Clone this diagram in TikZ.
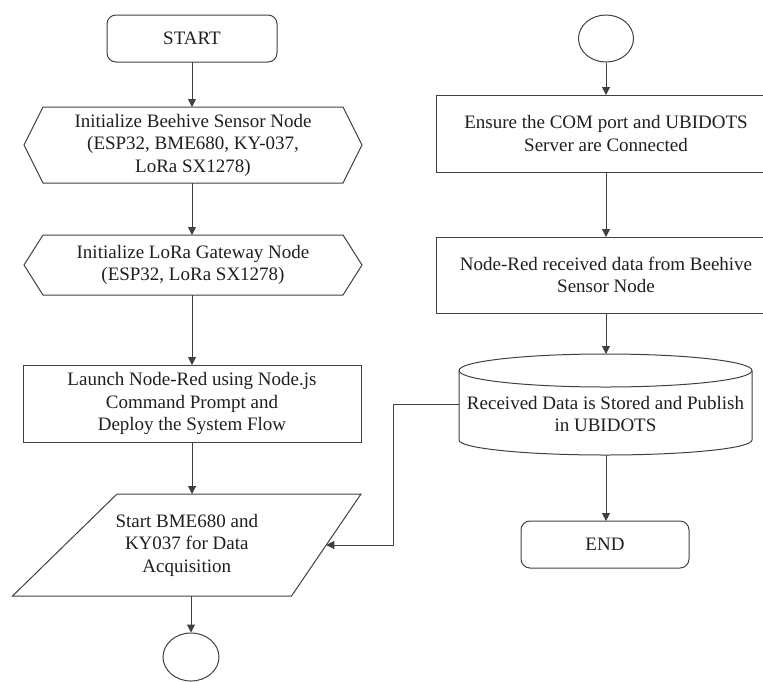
\documentclass[tikz,border=0pt]{standalone}
\usepackage{fontspec}
\setmainfont{Liberation Serif}
\usetikzlibrary{arrows.meta,calc,shapes.geometric}
\begin{document}
\begin{tikzpicture}[x=1pt,y=-1pt,
  line/.style={draw=black!75, line width=1pt},
  arr/.style={line, -{Triangle[length=8pt,width=8pt]}},
  txt/.style={align=center, font=\fontsize{19}{22.5}\selectfont, text=black!88, inner sep=0pt, outer sep=0pt},
  termbox/.style={txt, line, rounded corners=9pt, minimum width=#1, minimum height=47pt},
  procbox/.style={txt, line, minimum width=#1},
  blank/.style={txt, minimum width=#1},
  conn/.style={line, ellipse, inner sep=0pt, minimum width=56pt, minimum height=48pt}
]
\useasboundingbox (0,0) rectangle (763,681);

% ---------- left column ----------
\node[termbox=170pt] (start) at (192,38.5) {START};

\node[blank=338pt, minimum height=76pt] (h1) at (193,145)
  {Initialize Beehive Sensor Node\\(ESP32, BME680, KY-037,\\LoRa SX1278)};
\draw[line] (h1.west) -- ([xshift=19pt]h1.north west) -- ([xshift=-19pt]h1.north east)
  -- (h1.east) -- ([xshift=-19pt]h1.south east) -- ([xshift=19pt]h1.south west) -- cycle;

\node[blank=338pt, minimum height=60pt] (h2) at (193,265)
  {Initialize LoRa Gateway Node\\(ESP32, LoRa SX1278)};
\draw[line] (h2.west) -- ([xshift=19pt]h2.north west) -- ([xshift=-19pt]h2.north east)
  -- (h2.east) -- ([xshift=-19pt]h2.south east) -- ([xshift=19pt]h2.south west) -- cycle;

\node[procbox=338pt, minimum height=77pt] (launch) at (192,403.5)
  {Launch Node-Red using Node.js\\Command Prompt and\\Deploy the System Flow};

\node[blank=279pt, minimum height=102pt] (par) at (186.75,545)
  {Start BME680 and\\KY037 for Data\\Acquisition};
\coordinate (pTL) at ([xshift=-69.75pt]par.north);
\coordinate (pTR) at ([xshift=174.25pt]par.north);
\coordinate (pBR) at ([xshift=104.75pt]par.south);
\coordinate (pBL) at ([xshift=-174.25pt]par.south);
\draw[line] (pTL) -- (pTR) -- (pBR) -- (pBL) -- cycle;
\coordinate (pin) at ($(pTR)!0.5!(pBR)$);

\node[conn] (c2) at (191,657) {};

% ---------- right column ----------
\node[conn, minimum width=55pt, minimum height=47pt] (c1) at (606,38.5) {};

\node[procbox=340pt, minimum height=77pt] (b1) at (606,133.5)
  {Ensure the COM port and UBIDOTS\\Server are Connected};

\node[procbox=340pt, minimum height=76pt] (b2) at (606,275)
  {Node-Red received data from Beehive\\Sensor Node};

\node[blank=293pt, minimum height=44pt] (cyl) at (605.5,414)
  {Received Data is Stored and Publish\\in UBIDOTS};
\coordinate (cyTop) at (605.5,354);
\coordinate (cyBot) at (605.5,455);
\draw[line] (605.5,370.5) ellipse [x radius=146.5pt, y radius=16.5pt];
\draw[line] (459,370.5) -- (459,440)
  arc[start angle=180, end angle=360, x radius=146.5pt, y radius=15pt]
  -- (752,370.5);

\node[termbox=168pt] (end) at (605,544.5) {END};

% ---------- connectors ----------
\draw[arr] (start.south) -- (h1.north -| start.south);
\draw[arr] (h1.south -| start.south) -- (h2.north -| start.south);
\draw[arr] (h2.south -| start.south) -- (launch.north -| start.south);
\draw[arr] (launch.south -| start.south) -- (pTL -| start.south);
\draw[arr] (pBL -| c2.north) -- (c2.north);

\draw[arr] (c1.south) -- (b1.north -| c1.south);
\draw[arr] (b1.south -| c1.south) -- (b2.north -| c1.south);
\draw[arr] (b2.south -| c1.south) -- (cyTop -| c1.south);
\draw[arr] (cyBot -| c1.south) -- (end.north -| c1.south);

\coordinate (fb) at (459,404);
\draw[arr] (fb) -- ++(-66,0) |- (pin);
\end{tikzpicture}
\end{document}
